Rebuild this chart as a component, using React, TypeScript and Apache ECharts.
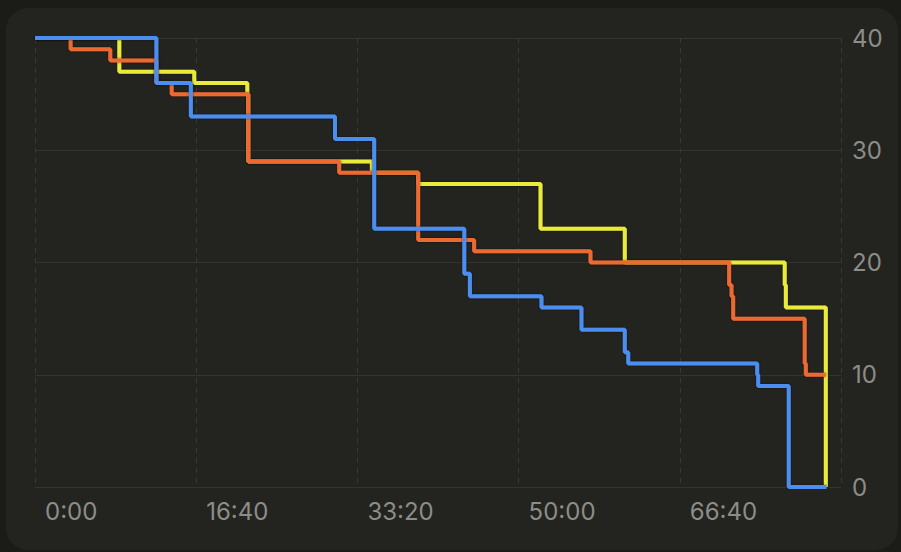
import React, { useEffect, useRef } from "react";
import * as echarts from "echarts";

// times in seconds, values = remaining count
const yellowTimes = [0, 523, 988, 1317, 1323, 2090, 2377, 3136, 3659, 4651, 4658, 4906];
const yellowValues = [40, 37, 36, 35, 29, 28, 27, 23, 20, 18, 16, 0];

const orangeTimes = [0, 221, 467, 753, 848, 1323, 1887, 2377, 2724, 3446, 4306, 4321, 4331, 4775, 4782, 4906];
const orangeValues = [40, 39, 38, 36, 35, 29, 28, 22, 21, 20, 18, 17, 15, 11, 10, 10];

const blueTimes = [0, 753, 967, 1861, 2104, 2663, 2698, 3142, 3390, 3659, 3680, 4480, 4486, 4676, 4910];
const blueValues = [40, 36, 33, 31, 23, 19, 17, 16, 14, 12, 11, 10, 9, 0, 0];

const xTicks = [0, 1000, 2000, 3000, 4000];
const yTicks = [0, 10, 20, 30, 40];

function fmt(v: number): string {
  const m = Math.floor(v / 60);
  const s = Math.round(v - m * 60);
  return `${m}:${s < 10 ? "0" + s : s}`;
}

function pairs(t: number[], v: number[]) {
  return t.map((x, i) => [x, v[i]]);
}

export default function App() {
  const ref = useRef<HTMLDivElement>(null);
  useEffect(() => {
    if (!ref.current) return;
    const chart = echarts.init(ref.current, undefined, { renderer: "svg" });
    const font = "Inter, 'Noto Sans', Roboto, sans-serif";
    const mkSeries = (name: string, t: number[], v: number[], color: string) => ({
      name,
      type: "line",
      step: "end",
      showSymbol: false,
      data: pairs(t, v),
      lineStyle: {
        color,
        width: 4,
        shadowColor: "rgba(0,0,0,0.55)",
        shadowBlur: 2,
      },
      itemStyle: { color },
    });
    chart.setOption({
      animation: false,
      backgroundColor: "transparent",
      grid: { left: 35, right: 60, top: 38, bottom: 65, containLabel: false },
      xAxis: {
        type: "value",
        min: xTicks[0],
        max: 5000,
        interval: 1000,
        axisLine: { show: false },
        axisTick: { show: false },
        splitLine: { show: true, lineStyle: { type: [5, 5], color: "#3a3835", width: 1 } },
        axisLabel: {
          color: "#8d8d88",
          fontSize: 24,
          fontFamily: font,
          align: "left",
          padding: [0, 0, 0, 10],
          margin: 12,
          formatter: (v: number) => (xTicks.indexOf(v) >= 0 ? fmt(v) : ""),
        },
      },
      yAxis: {
        type: "value",
        position: "right",
        min: yTicks[0],
        max: yTicks[yTicks.length - 1],
        interval: 10,
        axisLine: { show: false },
        axisTick: { show: false },
        splitLine: { show: true, lineStyle: { color: "#363230", width: 1 } },
        axisLabel: {
          color: "#8d8d88",
          fontSize: 24,
          fontFamily: font,
          margin: 11,
        },
      },
      series: [
        mkSeries("Yellow", yellowTimes, yellowValues, "#eaea3a"),
        mkSeries("Orange", orangeTimes, orangeValues, "#ec6b33"),
        mkSeries("Blue", blueTimes, blueValues, "#4b8ef0"),
      ],
    });
    return () => chart.dispose();
  }, []);
  return (
    <div style={{ position: "fixed", left: 0, top: 0, width: 901, height: 552, background: "#1b1b18" }}>
      <div
        style={{
          position: "absolute",
          left: 6,
          top: 8,
          width: 892,
          height: 542,
          borderRadius: 22,
          background: "#232320",
        }}
      />
      <div ref={ref} style={{ position: "absolute", left: 0, top: 0, width: 901, height: 552 }} />
    </div>
  );
}
